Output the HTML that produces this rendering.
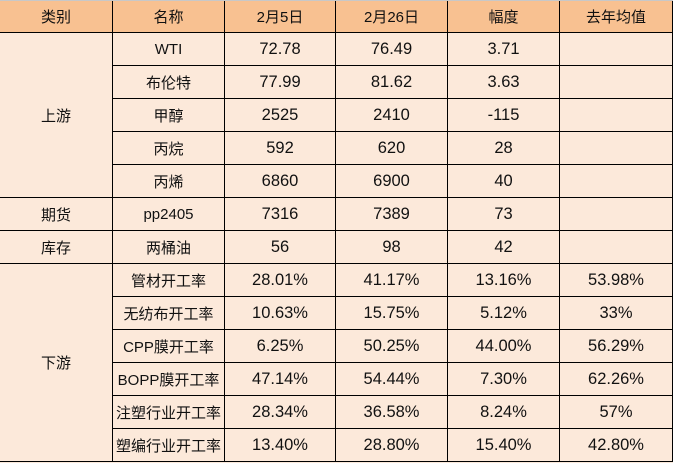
<!DOCTYPE html>
<html><head><meta charset="utf-8"><style>
*{margin:0;padding:0;box-sizing:border-box}
body{width:673px;height:463px;background:#fce9da;position:relative;overflow:hidden;font-family:"Liberation Sans","Noto Sans CJK SC",sans-serif;font-size:15px;color:#111}
.c{position:absolute;display:flex;align-items:center;justify-content:center;border-right:1px solid #000;border-bottom:1px solid #000;background:#fce9da;white-space:nowrap}
.h{background:#f8c191}
.n{font-size:16.5px}
</style></head><body>
<div id="t"></div>
<script>
var X=[0,113,225,336,448,560,673];
var rows=[
["类别","名称","2月5日","2月26日","幅度","去年均值"],
["","WTI","72.78","76.49","3.71",""],
["","布伦特","77.99","81.62","3.63",""],
["","甲醇","2525","2410","-115",""],
["","丙烷","592","620","28",""],
["","丙烯","6860","6900","40",""],
["期货","pp2405","7316","7389","73",""],
["库存","两桶油","56","98","42",""],
["","管材开工率","28.01%","41.17%","13.16%","53.98%"],
["","无纺布开工率","10.63%","15.75%","5.12%","33%"],
["","CPP膜开工率","6.25%","50.25%","44.00%","56.29%"],
["","BOPP膜开工率","47.14%","54.44%","7.30%","62.26%"],
["","注塑行业开工率","28.34%","36.58%","8.24%","57%"],
["","塑编行业开工率","13.40%","28.80%","15.40%","42.80%"]];
var h='';
function cell(x,y,w,hh,txt,cls){h+='<div class="c '+(cls||'')+'" style="left:'+x+'px;top:'+y+'px;width:'+w+'px;height:'+hh+'px">'+txt+'</div>';}
for(var r=0;r<rows.length;r++){for(var c=(r==0?0:1);c<6;c++){var cl=r==0?'h':(c>=2?'n':'');cell(X[c],r*33,X[c+1]-X[c],33,rows[r][c],cl);}}
cell(0,33,113,165,"上游");
cell(0,198,113,33,"期货");
cell(0,231,113,33,"库存");
cell(0,264,113,198,"下游");
document.getElementById('t').innerHTML=h;
</script>
<div style="position:absolute;left:0;top:0;width:673px;height:1px;background:#c8c8c8"></div>
</body></html>
